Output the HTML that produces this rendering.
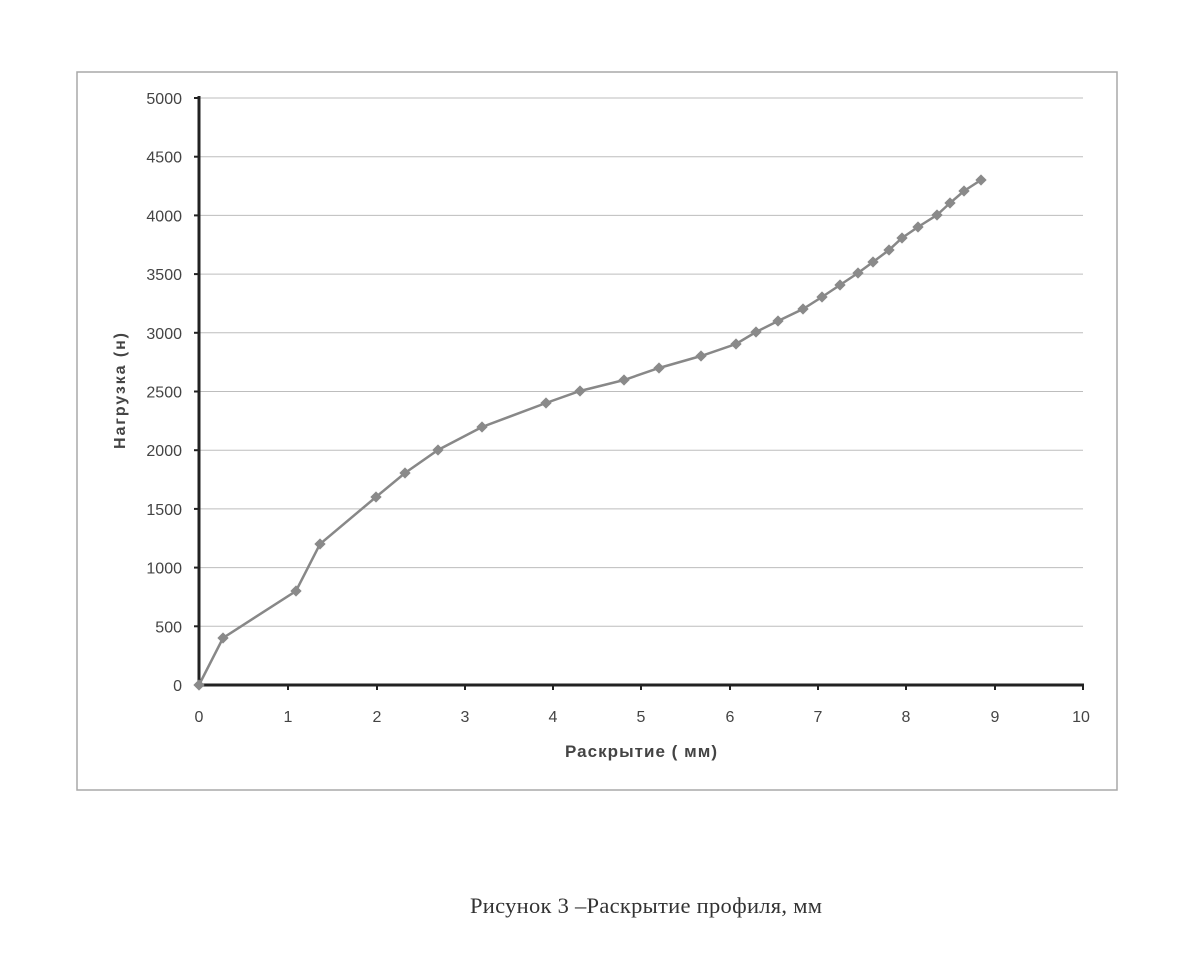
<!DOCTYPE html>
<html><head><meta charset="utf-8"><style>
html,body{margin:0;padding:0;background:#fff;}
</style></head><body>
<svg width="1194" height="967" xmlns="http://www.w3.org/2000/svg" font-family="'Liberation Sans', sans-serif">
<rect x="0" y="0" width="1194" height="967" fill="#fff"/>
<rect x="77" y="72" width="1040" height="718" fill="none" stroke="#a8a8a8" stroke-width="1.5"/>
<g stroke="#bdbdbd" stroke-width="1">
<line x1="198" y1="98" x2="1083" y2="98"/>
<line x1="198" y1="156.7" x2="1083" y2="156.7"/>
<line x1="198" y1="215.4" x2="1083" y2="215.4"/>
<line x1="198" y1="274.1" x2="1083" y2="274.1"/>
<line x1="198" y1="332.8" x2="1083" y2="332.8"/>
<line x1="198" y1="391.5" x2="1083" y2="391.5"/>
<line x1="198" y1="450.2" x2="1083" y2="450.2"/>
<line x1="198" y1="508.9" x2="1083" y2="508.9"/>
<line x1="198" y1="567.6" x2="1083" y2="567.6"/>
<line x1="198" y1="626.3" x2="1083" y2="626.3"/>
</g>
<g stroke="#222" stroke-width="3">
<line x1="199" y1="96" x2="199" y2="686"/>
<line x1="197" y1="685" x2="1084" y2="685"/>
</g>
<g stroke="#222" stroke-width="2">
<line x1="194" y1="98" x2="199" y2="98"/><line x1="194" y1="156.7" x2="199" y2="156.7"/><line x1="194" y1="215.4" x2="199" y2="215.4"/><line x1="194" y1="274.1" x2="199" y2="274.1"/><line x1="194" y1="332.8" x2="199" y2="332.8"/><line x1="194" y1="391.5" x2="199" y2="391.5"/><line x1="194" y1="450.2" x2="199" y2="450.2"/><line x1="194" y1="508.9" x2="199" y2="508.9"/><line x1="194" y1="567.6" x2="199" y2="567.6"/><line x1="194" y1="626.3" x2="199" y2="626.3"/>
<line x1="288" y1="685" x2="288" y2="690"/><line x1="377" y1="685" x2="377" y2="690"/><line x1="465" y1="685" x2="465" y2="690"/><line x1="553" y1="685" x2="553" y2="690"/><line x1="641" y1="685" x2="641" y2="690"/><line x1="730" y1="685" x2="730" y2="690"/><line x1="818" y1="685" x2="818" y2="690"/><line x1="906" y1="685" x2="906" y2="690"/><line x1="995" y1="685" x2="995" y2="690"/><line x1="1083" y1="685" x2="1083" y2="690"/>
</g>
<g font-size="16" fill="#444" text-anchor="end">
<text x="182" y="104">5000</text><text x="182" y="162.7">4500</text><text x="182" y="221.4">4000</text><text x="182" y="280.1">3500</text><text x="182" y="338.8">3000</text><text x="182" y="397.5">2500</text><text x="182" y="456.2">2000</text><text x="182" y="514.9">1500</text><text x="182" y="573.6">1000</text><text x="182" y="632.3">500</text><text x="182" y="691">0</text>
</g>
<g font-size="16" fill="#444" text-anchor="middle">
<text x="199" y="722">0</text><text x="288" y="722">1</text><text x="377" y="722">2</text><text x="465" y="722">3</text><text x="553" y="722">4</text><text x="641" y="722">5</text><text x="730" y="722">6</text><text x="818" y="722">7</text><text x="906" y="722">8</text><text x="995" y="722">9</text><text x="1081" y="722">10</text>
</g>
<text x="641" y="757" font-size="17" font-weight="bold" fill="#444" text-anchor="middle" textLength="152">Раскрытие ( мм)</text>
<text transform="translate(125,391) rotate(-90)" font-size="16" font-weight="bold" fill="#444" text-anchor="middle" textLength="116">Нагрузка (н)</text>
<polyline fill="none" stroke="#888" stroke-width="2.5" points="199,685 223,638 296,591 320,544 376,497 405,473 438,450 482,427 546,403 580,391 624,380 659,368 701,356 736,344 756,332 778,321 803,309 822,297 840,285 858,273 873,262 889,250 902,238 918,227 937,215 950,203 964,191 981,180"/>
<g fill="#8a8a8a">
<rect x="195" y="681" width="8" height="8" transform="rotate(45 199 685)"/>
<rect x="219" y="634" width="8" height="8" transform="rotate(45 223 638)"/>
<rect x="292" y="587" width="8" height="8" transform="rotate(45 296 591)"/>
<rect x="316" y="540" width="8" height="8" transform="rotate(45 320 544)"/>
<rect x="372" y="493" width="8" height="8" transform="rotate(45 376 497)"/>
<rect x="401" y="469" width="8" height="8" transform="rotate(45 405 473)"/>
<rect x="434" y="446" width="8" height="8" transform="rotate(45 438 450)"/>
<rect x="478" y="423" width="8" height="8" transform="rotate(45 482 427)"/>
<rect x="542" y="399" width="8" height="8" transform="rotate(45 546 403)"/>
<rect x="576" y="387" width="8" height="8" transform="rotate(45 580 391)"/>
<rect x="620" y="376" width="8" height="8" transform="rotate(45 624 380)"/>
<rect x="655" y="364" width="8" height="8" transform="rotate(45 659 368)"/>
<rect x="697" y="352" width="8" height="8" transform="rotate(45 701 356)"/>
<rect x="732" y="340" width="8" height="8" transform="rotate(45 736 344)"/>
<rect x="752" y="328" width="8" height="8" transform="rotate(45 756 332)"/>
<rect x="774" y="317" width="8" height="8" transform="rotate(45 778 321)"/>
<rect x="799" y="305" width="8" height="8" transform="rotate(45 803 309)"/>
<rect x="818" y="293" width="8" height="8" transform="rotate(45 822 297)"/>
<rect x="836" y="281" width="8" height="8" transform="rotate(45 840 285)"/>
<rect x="854" y="269" width="8" height="8" transform="rotate(45 858 273)"/>
<rect x="869" y="258" width="8" height="8" transform="rotate(45 873 262)"/>
<rect x="885" y="246" width="8" height="8" transform="rotate(45 889 250)"/>
<rect x="898" y="234" width="8" height="8" transform="rotate(45 902 238)"/>
<rect x="914" y="223" width="8" height="8" transform="rotate(45 918 227)"/>
<rect x="933" y="211" width="8" height="8" transform="rotate(45 937 215)"/>
<rect x="946" y="199" width="8" height="8" transform="rotate(45 950 203)"/>
<rect x="960" y="187" width="8" height="8" transform="rotate(45 964 191)"/>
<rect x="977" y="176" width="8" height="8" transform="rotate(45 981 180)"/>
</g>
<text x="646" y="913" font-family="'Liberation Serif', serif" font-size="22.5" fill="#333" text-anchor="middle" textLength="352">Рисунок 3 –Раскрытие профиля, мм</text>
</svg>
</body></html>
